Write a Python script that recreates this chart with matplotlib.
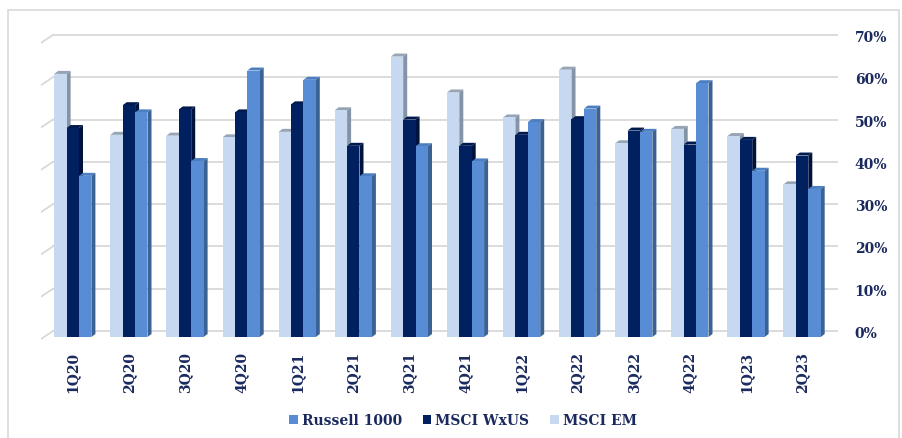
import matplotlib.pyplot as plt
import numpy as np
from matplotlib.patches import Patch, Polygon

quarters = ['1Q20', '2Q20', '3Q20', '4Q20', '1Q21', '2Q21', '3Q21',
            '4Q21', '1Q22', '2Q22', '3Q22', '4Q22', '1Q23', '2Q23']
msci_em = [62.2, 47.8, 47.6, 47.2, 48.5, 53.6, 66.3,
           57.8, 51.9, 63.2, 45.8, 49.2, 47.5, 36.1]
msci_wxus = [49.4, 54.8, 53.8, 53.1, 55.0, 45.2, 51.4,
             45.2, 47.8, 51.5, 48.8, 45.5, 46.6, 42.9]
russell_1000 = [38.1, 53.1, 41.6, 63.0, 60.8, 38.0, 45.1,
                41.5, 50.8, 54.0, 48.5, 60.0, 39.3, 35.0]
y_ticks = [0, 10, 20, 30, 40, 50, 60, 70]

navy = '#1B2A5E'
grid_c = '#D9D9D9'
# (front, top, side) shades for each series
series = [
    ('MSCI EM', msci_em, ('#C6D9F1', '#96A4B5', '#8593A6')),
    ('MSCI WxUS', msci_wxus, ('#00205F', '#001A4F', '#00133D')),
    ('Russell 1000', russell_1000, ('#588DD5', '#4C7FC2', '#3B6294')),
]

W, H = 902, 439
fig = plt.figure(figsize=(W / 100, H / 100), dpi=100)

# light frame around the chart
frame = plt.Rectangle((8 / W, -0.05), (W - 3 - 8) / W, 1.05 - 11 / H,
                      transform=fig.transFigure, fill=False,
                      edgecolor='#D9D9D9', linewidth=1.2)
fig.patches.append(frame)

px_cat = 56.1   # pixels per category
px_pct = 4.23   # pixels per percent
x0_px, base_px = 72.8, 338.0
left_px, right_px, top_px, bot_px = 41, 838, 30, 341
ax = fig.add_axes([left_px / W, 1 - bot_px / H,
                   (right_px - left_px) / W, (bot_px - top_px) / H])
ax.set_xlim((left_px - x0_px) / px_cat, (right_px - x0_px) / px_cat)
ax.set_ylim((base_px - bot_px) / px_pct, (base_px - top_px) / px_pct)
for s in ax.spines.values():
    s.set_visible(False)

# depth offsets in data units
bar_dx, bar_dy = 4 / px_cat, 3 / px_pct
wall_dx, wall_dy = 8.5 / px_cat, 6 / px_pct
side_dx, side_dy = 12 / px_cat, 8 / px_pct
wall_left = (53 - x0_px) / px_cat
wall_right = ax.get_xlim()[1]

# back wall gridlines with the left-side diagonal
for v in y_ticks:
    yb = v + wall_dy
    ax.plot([wall_left, wall_right], [yb, yb], color=grid_c, lw=1.3, zorder=1)
    ax.plot([wall_left - side_dx, wall_left], [yb - side_dy, yb],
            color=grid_c, lw=1.3, zorder=1)

bw = 12.4 / px_cat
x = np.arange(len(quarters))
for k, (name, vals, (c_front, c_top, c_side)) in enumerate(series):
    xs = x + (k - 1) * bw
    for xi, v in zip(xs, vals):
        xl, xr = xi - bw / 2, xi + bw / 2
        top = Polygon([(xl, v), (xr, v), (xr + bar_dx, v + bar_dy),
                       (xl + bar_dx, v + bar_dy)], closed=True,
                      facecolor=c_top, edgecolor='none', zorder=2 + k)
        side = Polygon([(xr, 0), (xr + bar_dx, bar_dy),
                        (xr + bar_dx, v + bar_dy), (xr, v)], closed=True,
                       facecolor=c_side, edgecolor='none', zorder=2 + k)
        ax.add_patch(top)
        ax.add_patch(side)
    ax.bar(xs, vals, width=bw, color=c_front, edgecolor='none',
           zorder=2 + k, label=name)

font = dict(family='DejaVu Serif', weight='bold', color=navy)

ax.set_xticks(x)
ax.set_xticklabels(quarters, rotation=90, fontsize=10, **font)
ax.tick_params(axis='x', length=0, pad=8)

ax.yaxis.tick_right()
ax.set_yticks(np.array(y_ticks) + 1.3)
ax.set_yticklabels([f'{t}%' for t in y_ticks], fontsize=10, **font)
ax.tick_params(axis='y', length=0, pad=12)
for lbl in ax.get_yticklabels():
    lbl.set_horizontalalignment('left')

handles = [Patch(facecolor=series[2][2][0]), Patch(facecolor=series[1][2][0]),
           Patch(facecolor=series[0][2][0])]
labels = ['Russell 1000', 'MSCI WxUS', 'MSCI EM']
fig.legend(handles, labels, loc='center', bbox_to_anchor=(463 / W, 1 - 421 / H),
           ncol=3, frameon=False, handlelength=0.6, handleheight=0.6,
           handletextpad=0.3, columnspacing=1.5,
           prop=dict(family='DejaVu Serif', weight='bold', size=10),
           labelcolor=navy)

fig.savefig('out.png', dpi=100)
